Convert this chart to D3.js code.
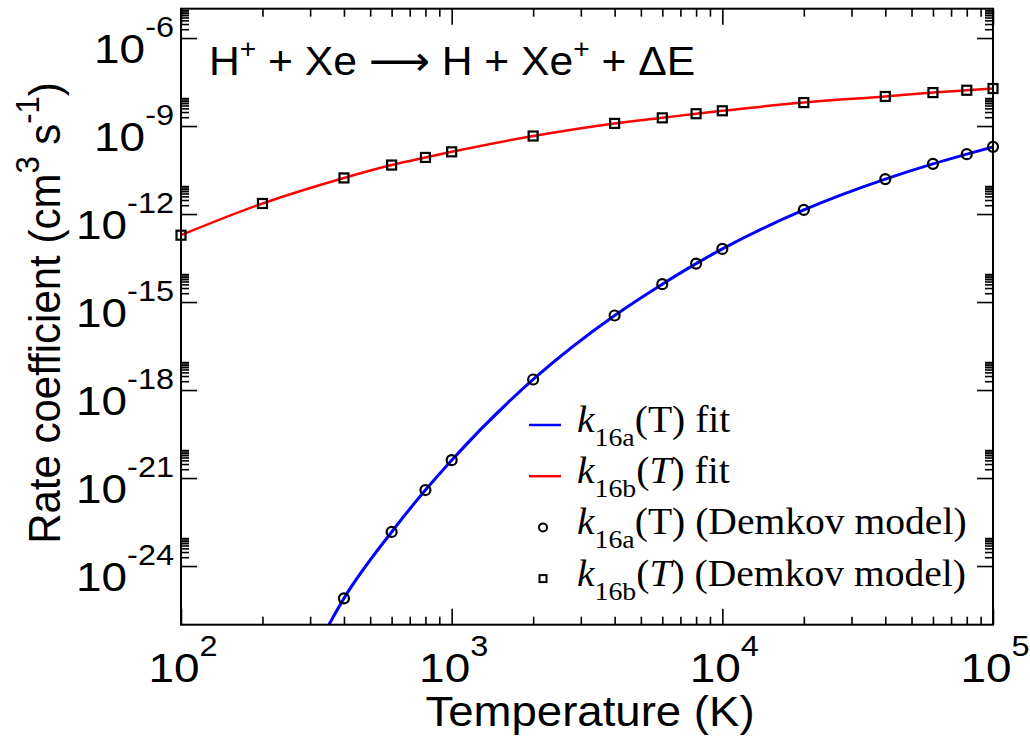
<!DOCTYPE html>
<html><head><meta charset="utf-8">
<script src="https://cdn.jsdelivr.net/npm/d3@7"></script>
<style>body{margin:0;background:#fff}</style>
</head><body><svg id="c" width="1030" height="736"></svg>
<script>
// ---- data ----
const tempB = [100,200,400,600,800,1000,2000,4000,6000,8000,10000,20000,40000,60000,80000,100000];
const k16b  = [1.9e-13,2.29e-12,1.7e-11,4.68e-11,8.5e-11,1.32e-10,4.57e-10,1.23e-9,1.9e-9,2.63e-9,3.31e-9,6.3e-9,1.02e-8,1.38e-8,1.66e-8,1.9e-8];
const tempA = [400,600,800,1000,2000,4000,6000,8000,10000,20000,40000,60000,80000,100000];
const k16a  = [7.9e-26,1.45e-23,3.9e-22,4.07e-21,2.29e-18,3.47e-16,4.07e-15,2.04e-14,6.46e-14,1.38e-12,1.55e-11,5.13e-11,1.1e-10,1.95e-10];
const fitATemp = [340].concat(tempA);
const fitAVal  = [5.6e-27].concat(k16a);
const fitBTemp = tempB;
const fitBVal  = k16b;
const xMajor = [1e2,1e3,1e4,1e5];
const xMajorExp = ["2","3","4","5"];
const yMajor = [1e-24,1e-21,1e-18,1e-15,1e-12,1e-9,1e-6];
const yMajorExp = ["-24","-21","-18","-15","-12","-9","-6"];

// ---- layout ----
const L=181, R=993, T=8.7, B=624.7;
const svg = d3.select('#c');
const x = d3.scaleLog().domain([1e2,1e5]).range([L,R]);
const y = d3.scaleLog().domain([1e-26,1e-5]).range([B,T]);
const SANS = "'Liberation Sans', Arial, Helvetica, sans-serif";
const SERIF = "'Liberation Serif', 'Times New Roman', serif";

// minor ticks
const xMinor = [];
[1e2,1e3,1e4].forEach(d=>{for(let m=2;m<=9;m++) xMinor.push(d*m);});
const yMinor = [];
yMajor.forEach(d=>{for(let m=2;m<=9;m++) yMinor.push(d*m);});

function tickAxis(axisFn, scale, vals, size, transform){
  const g = svg.append('g').attr('transform', transform)
    .call(axisFn(scale).tickValues(vals).tickSize(size).tickFormat(''));
  g.select('.domain').remove();
  g.selectAll('line').attr('stroke','#000').attr('stroke-width',1.6);
}
tickAxis(d3.axisBottom, x, xMajor, -16, `translate(0,${B})`);
tickAxis(d3.axisBottom, x, xMinor, -8, `translate(0,${B})`);
tickAxis(d3.axisTop, x, xMajor, -16, `translate(0,${T})`);
tickAxis(d3.axisTop, x, xMinor, -8, `translate(0,${T})`);
tickAxis(d3.axisLeft, y, yMajor, -16, `translate(${L},0)`);
tickAxis(d3.axisLeft, y, yMinor, -8, `translate(${L},0)`);
tickAxis(d3.axisRight, y, yMajor, -16, `translate(${R},0)`);
tickAxis(d3.axisRight, y, yMinor, -8, `translate(${R},0)`);

// rich text helper (sx = horizontal stretch)
function rich(px, py, anchor, family, parts, rot, sx){
  const t = svg.append('text')
    .attr('transform', `translate(${px},${py})` + (sx ? ` scale(${sx},1)` : '') + (rot ? ' rotate(-90)' : ''))
    .attr('text-anchor', anchor).attr('font-family', family).attr('fill','#000');
  let cur = 0;
  parts.forEach(p=>{
    const sh = p.shift||0;
    const ts = t.append('tspan').text(p.t).attr('font-size', p.fs)
      .attr('dy', -(sh-cur));
    if(p.it) ts.attr('font-style','italic');
    if(p.ff) ts.attr('font-family', p.ff);
    cur = sh;
  });
  return t;
}

// tick labels
xMajor.forEach((v,i)=>{
  rich(x(v)+2, 682, 'middle', SANS, [{t:'10',fs:41},{t:xMajorExp[i],fs:29,shift:26}], false, 1.12);
});
yMajor.forEach((v,i)=>{
  rich(174, y(v)+25, 'end', SANS, [{t:'10',fs:41},{t:yMajorExp[i],fs:29,shift:26}], false, 1.12);
});

// axis titles
rich(590, 726, 'middle', SANS, [{t:'Temperature (K)',fs:43}], false, 1.06);
rich(60, 313, 'middle', SANS, [{t:'Rate coefficient (cm',fs:42},{t:'3',fs:31,shift:20},{t:' s',fs:42},{t:'-1',fs:31,shift:20},{t:')',fs:42}], true, 1.06);

// annotation
rich(209, 75, 'start', SANS, [{t:'H',fs:41},{t:'+',fs:27,shift:17},{t:' + Xe ',fs:41},{t:'\u27F6',fs:41,ff:"'DejaVu Sans', sans-serif"},{t:' H + Xe',fs:41},{t:'+',fs:27,shift:17},{t:' + \u0394E',fs:41}], false, 1.04);

// clip
svg.append('clipPath').attr('id','clip').append('rect').attr('x',L).attr('y',T).attr('width',R-L).attr('height',B-T);

const line = d3.line().x(d=>x(d[0])).y(d=>y(d[1])).curve(d3.curveMonotoneX);
svg.append('path').attr('clip-path','url(#clip)')
  .datum(fitATemp.map((t,i)=>[t,fitAVal[i]]))
  .attr('d', line).attr('fill','none').attr('stroke','#0000ff').attr('stroke-width',3);
svg.append('path').attr('clip-path','url(#clip)')
  .datum(fitBTemp.map((t,i)=>[t,fitBVal[i]]))
  .attr('d', line).attr('fill','none').attr('stroke','#ff0000').attr('stroke-width',2.5);

// markers
svg.append('g').selectAll('circle').data(tempA.map((t,i)=>[t,k16a[i]])).join('circle')
  .attr('cx',d=>x(d[0])).attr('cy',d=>y(d[1])).attr('r',5)
  .attr('fill','none').attr('stroke','#000').attr('stroke-width',2.2);
svg.append('g').selectAll('rect').data(tempB.map((t,i)=>[t,k16b[i]])).join('rect')
  .attr('x',d=>x(d[0])-4.5).attr('y',d=>y(d[1])-4.5).attr('width',9).attr('height',9)
  .attr('fill','none').attr('stroke','#000').attr('stroke-width',2.2);

// frame
svg.append('rect').attr('x',L).attr('y',T).attr('width',R-L).attr('height',B-T)
  .attr('fill','none').attr('stroke','#000').attr('stroke-width',2);

// legend
const legRows = [
  {type:'line', color:'#0000ff', sub:'16a', itT:false, tail:') fit'},
  {type:'line', color:'#ff0000', sub:'16b', itT:true, tail:') fit'},
  {type:'circle', sub:'16a', itT:false, tail:') (Demkov model)'},
  {type:'square', sub:'16b', itT:true, tail:') (Demkov model)'}
];
const legY0 = 425, legDY = 51.2;
legRows.forEach((r,i)=>{
  const ly = legY0 + i*legDY;
  if(r.type==='line'){
    svg.append('line').attr('x1',529).attr('x2',561).attr('y1',ly).attr('y2',ly)
      .attr('stroke',r.color).attr('stroke-width',2.5);
  } else if(r.type==='circle'){
    svg.append('circle').attr('cx',543).attr('cy',ly).attr('r',4).attr('fill','none').attr('stroke','#000').attr('stroke-width',2);
  } else {
    svg.append('rect').attr('x',539.5).attr('y',ly-3.5).attr('width',7).attr('height',7).attr('fill','none').attr('stroke','#000').attr('stroke-width',2);
  }
  rich(577, ly+7, 'start', SERIF, [
    {t:'k',fs:37,it:true},{t:r.sub,fs:26,shift:-14},{t:'(',fs:37},{t:'T',fs:37,it:r.itT},{t:r.tail,fs:37}
  ], false, 1.07);
});
</script></body></html>
